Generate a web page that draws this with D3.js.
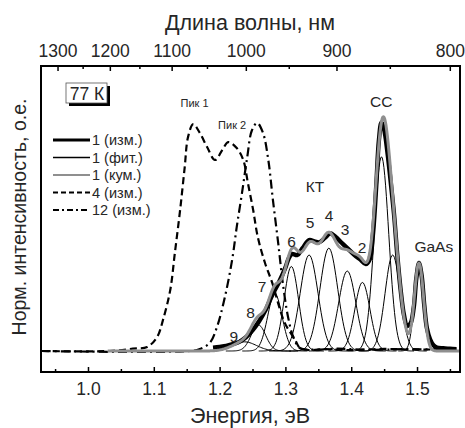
<!DOCTYPE html>
<html>
<head>
<meta charset="utf-8">
<script src="https://cdn.jsdelivr.net/npm/d3@7"></script>
<style>
  html, body { margin: 0; padding: 0; background: #fff; }
  svg { display: block; font-family: "Liberation Sans", Arial, sans-serif; }
  svg text { fill: #262626; font-weight: normal; }
</style>
</head>
<body>
<svg id="chart" width="465" height="428"></svg>
<script>
// ---- axis ticks ----
const energyTicks = [1.0, 1.1, 1.2, 1.3, 1.4, 1.5];
const energyMinorTicks = [0.95, 1.05, 1.15, 1.25, 1.35, 1.45, 1.55];
const wavelengthTicks = [1300, 1200, 1100, 1000, 900, 800];
const wavelengthMinorTicks = [1250, 1150, 1050, 950, 850];

// ---- spectrum 1, measured (energy, eV / normalised intensity) ----
const meas1E = [1.19, 1.20, 1.21, 1.22, 1.23, 1.24, 1.25, 1.26, 1.27, 1.28, 1.29, 1.30, 1.305, 1.31, 1.318,
  1.326, 1.336, 1.344, 1.351, 1.36, 1.368, 1.376, 1.385, 1.394, 1.405, 1.414, 1.422, 1.428, 1.433, 1.438,
  1.442, 1.446, 1.45, 1.455, 1.46, 1.465, 1.47, 1.475, 1.48, 1.485, 1.49, 1.495, 1.499, 1.503, 1.507,
  1.511, 1.515, 1.52, 1.525, 1.53, 1.54, 1.55, 1.56];
const meas1V = [0.015, 0.018, 0.022, 0.03, 0.04, 0.06, 0.09, 0.13, 0.18, 0.245, 0.30, 0.365, 0.405, 0.425, 0.42,
  0.45, 0.485, 0.48, 0.475, 0.495, 0.515, 0.50, 0.475, 0.45, 0.42, 0.40, 0.38, 0.40, 0.51, 0.72,
  0.92, 1.0, 0.97, 0.87, 0.74, 0.60, 0.42, 0.27, 0.16, 0.11, 0.12, 0.19, 0.32, 0.385, 0.33,
  0.20, 0.10, 0.05, 0.025, 0.015, 0.012, 0.01, 0.008];

// ---- spectrum 1, Gaussian fit components ----
const fitNames   = ["9", "8", "7", "6", "5", "4", "3", "2", "СС", "СС'", "GaAs"];
const fitCenters = [1.238, 1.259, 1.284, 1.309, 1.336, 1.366, 1.394, 1.417, 1.446, 1.463, 1.503];
const fitHeights = [0.04, 0.114, 0.25, 0.37, 0.42, 0.45, 0.35, 0.30, 0.85, 0.42, 0.384];
const fitSigmas  = [0.018, 0.011, 0.011, 0.011, 0.0135, 0.0135, 0.013, 0.0115, 0.011, 0.0115, 0.007];

// ---- spectrum 4, measured ----
const meas4E = [0.93, 1.033, 1.068, 1.09, 1.105, 1.114, 1.125, 1.132, 1.14, 1.147, 1.152, 1.16, 1.17, 1.181,
  1.193, 1.204, 1.213, 1.226, 1.236, 1.243, 1.251, 1.258, 1.269, 1.28, 1.299, 1.315, 1.322, 1.337,
  1.36, 1.40, 1.45, 1.50, 1.56];
const meas4V = [0, 0, 0.01, 0.018, 0.061, 0.136, 0.267, 0.429, 0.617, 0.805, 0.936, 0.993, 0.954, 0.893,
  0.836, 0.879, 0.914, 0.888, 0.836, 0.735, 0.617, 0.499, 0.385, 0.298, 0.123, 0.048, 0.013, 0.004,
  0.008, 0.004, 0.009, 0.006, 0.009];

// ---- spectrum 12, measured ----
const meas12E = [0.93, 1.155, 1.17, 1.185, 1.196, 1.208, 1.219, 1.226, 1.234, 1.242, 1.249, 1.257, 1.266,
  1.274, 1.281, 1.289, 1.296, 1.304, 1.312, 1.322, 1.337, 1.38, 1.43, 1.48, 1.56];
const meas12V = [0, 0, 0.009, 0.035, 0.105, 0.236, 0.398, 0.542, 0.691, 0.849, 0.965, 0.998, 0.954,
  0.836, 0.661, 0.473, 0.298, 0.149, 0.061, 0.013, 0.006, 0.01, 0.005, 0.008, 0.006];

// ---- annotations: text, energy, intensity ----
const annTexts = ["Пик 1", "Пик 2", "КТ", "СС", "GaAs", "2", "3", "4", "5", "6", "7", "8", "9"];
const annE     = [1.162, 1.219, 1.345, 1.4455, 1.5255, 1.4165, 1.3905, 1.3665, 1.3375, 1.3095, 1.2645, 1.247, 1.2215];
const annV     = [1.07, 0.97, 0.694, 1.07, 0.433, 0.429, 0.508, 0.569, 0.538, 0.455, 0.258, 0.144, 0.039];
const annSizes = ["small", "small", "big", "big", "big", "big", "big", "big", "big", "big", "big", "big", "big"];

// ---- legend ----
const legendLabels = ["1 (изм.)", "1 (фит.)", "1 (кум.)", "4 (изм.)", "12 (изм.)"];

const svg = d3.select("#chart");
const plot = { left: 41, right: 460, top: 66, bottom: 372 };

const x = d3.scaleLinear().domain([0.9286, 1.5653]).range([plot.left, plot.right]);
const y = d3.scaleLinear().domain([-0.0919, 1.2473]).range([plot.bottom, plot.top]);
const HC = 1239.84; // eV·nm

svg.append("defs").append("clipPath").attr("id", "clip")
  .append("rect").attr("x", plot.left).attr("y", plot.top)
  .attr("width", plot.right - plot.left).attr("height", plot.bottom - plot.top);

const g = svg.append("g").attr("clip-path", "url(#clip)");

const line = d3.line().x(d => x(d[0])).y(d => y(d[1])).curve(d3.curveCatmullRom.alpha(0.5));
const zip = (a, b) => a.map((v, i) => [v, b[i]]);

const gauss = (e, i) => fitHeights[i] * Math.exp(-0.5 * Math.pow((e - fitCenters[i]) / fitSigmas[i], 2));

// dashed / dash-dot spectra
g.append("path").datum(zip(meas4E, meas4V)).attr("d", line)
  .attr("fill", "none").attr("stroke", "#000").attr("stroke-width", 2.2)
  .attr("stroke-dasharray", "7,4");
g.append("path").datum(zip(meas12E, meas12V)).attr("d", line)
  .attr("fill", "none").attr("stroke", "#000").attr("stroke-width", 2.2)
  .attr("stroke-dasharray", "9,4,2,4");

// individual Gaussian components
fitCenters.forEach((c, i) => {
  const s = fitSigmas[i];
  const pts = d3.range(0, 81).map(k => {
    const e = c - 4.5 * s + k * (9 * s / 80);
    return [e, gauss(e, i)];
  });
  g.append("path").datum(pts)
    .attr("d", d3.line().x(d => x(d[0])).y(d => y(d[1])))
    .attr("fill", "none").attr("stroke", "#000").attr("stroke-width", 1);
});

// measured spectrum 1
g.append("path").datum(zip(meas1E, meas1V)).attr("d", line)
  .attr("fill", "none").attr("stroke", "#000").attr("stroke-width", 4.4)
  .attr("stroke-linejoin", "round");

// cumulative fit (sum of components)
const cumE = d3.range(1.03, 1.5655, 0.001);
const cum = cumE.map(e => [e, d3.sum(fitCenters, (c, i) => gauss(e, i))]);
g.append("path").datum(cum)
  .attr("d", d3.line().x(d => x(d[0])).y(d => y(d[1])))
  .attr("fill", "none").attr("stroke", "#8f8f8f").attr("stroke-width", 3)
  .attr("stroke-linejoin", "round");

// ---- axes ----
const bottomAxis = d3.axisBottom(x).tickValues(energyTicks).tickFormat(d3.format(".1f"))
  .tickSizeInner(-5).tickSizeOuter(0).tickPadding(11);
const bAx = svg.append("g").attr("transform", `translate(0,${plot.bottom})`).call(bottomAxis);
svg.append("g").attr("transform", `translate(0,${plot.bottom})`)
  .call(d3.axisBottom(x).tickValues(energyMinorTicks).tickFormat("").tickSizeInner(-3).tickSizeOuter(0));

const topAxis = d3.axisTop(x).tickValues(wavelengthTicks.map(l => HC / l))
  .tickFormat((d, i) => wavelengthTicks[i]).tickSizeInner(-5).tickSizeOuter(0).tickPadding(9);
const tAx = svg.append("g").attr("transform", `translate(0,${plot.top})`).call(topAxis);
svg.append("g").attr("transform", `translate(0,${plot.top})`)
  .call(d3.axisTop(x).tickValues(wavelengthMinorTicks.map(l => HC / l)).tickFormat("")
    .tickSizeInner(-3).tickSizeOuter(0));

svg.selectAll(".domain").remove();
svg.selectAll(".tick line").attr("stroke", "#000").attr("stroke-width", 1.5);
[bAx, tAx].forEach(a => a.selectAll("text")
  .attr("font-size", 17.5).attr("fill", "#262626")
  .attr("font-family", "'Liberation Sans', Arial, sans-serif"));

// frame
svg.append("rect").attr("x", plot.left).attr("y", plot.top)
  .attr("width", plot.right - plot.left).attr("height", plot.bottom - plot.top)
  .attr("fill", "none").attr("stroke", "#000").attr("stroke-width", 2);

// axis titles
svg.append("text").attr("x", 250).attr("y", 29.5).attr("text-anchor", "middle")
  .attr("font-size", 21.5).text("Длина волны, нм");
svg.append("text").attr("x", 250).attr("y", 422.5).attr("text-anchor", "middle")
  .attr("font-size", 21.5).text("Энергия, эВ");
svg.append("text").attr("transform", "translate(26,217) rotate(-90)").attr("text-anchor", "middle")
  .attr("font-size", 19.5).text("Норм. интенсивность, о.е.");

// annotations
annTexts.forEach((t, i) => {
  svg.append("text").attr("x", x(annE[i])).attr("y", y(annV[i]))
    .attr("text-anchor", "middle")
    .attr("font-size", annSizes[i] === "small" ? 11 : 15.5)
    .text(t);
});

// temperature box
const tb = svg.append("g");
tb.append("rect").attr("x", 69).attr("y", 86).attr("width", 41).attr("height", 20).attr("fill", "#000");
tb.append("rect").attr("x", 66).attr("y", 83).attr("width", 41).attr("height", 20)
  .attr("fill", "#fff").attr("stroke", "#555").attr("stroke-width", 0.8);
tb.append("text").attr("x", 87).attr("y", 100).attr("text-anchor", "middle")
  .attr("font-size", 17.5).text("77 К");

// legend
const legendStyles = [
  { stroke: "#000", width: 3, dash: null },
  { stroke: "#000", width: 1.3, dash: null },
  { stroke: "#8f8f8f", width: 1.8, dash: null },
  { stroke: "#000", width: 2, dash: "5,3" },
  { stroke: "#000", width: 1.8, dash: "6,3,2,3" }
];
legendLabels.forEach((lab, i) => {
  const cy = 140 + i * 17.5;
  const st = legendStyles[i];
  svg.append("line").attr("x1", 53).attr("x2", 90).attr("y1", cy).attr("y2", cy)
    .attr("stroke", st.stroke).attr("stroke-width", st.width)
    .attr("stroke-dasharray", st.dash);
  svg.append("text").attr("x", 92).attr("y", cy + 5.3).attr("font-size", 14.5).text(lab);
});
</script>
</body>
</html>
